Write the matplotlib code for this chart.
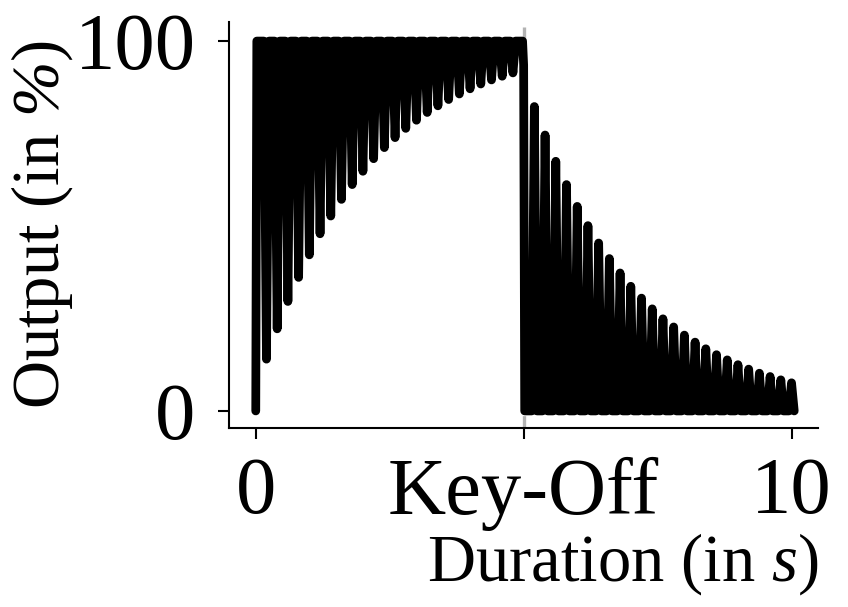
import matplotlib
matplotlib.use("Agg")
import matplotlib.pyplot as plt

plt.rcParams['font.family'] = ['Liberation Serif', 'DejaVu Serif']
plt.rcParams['mathtext.fontset'] = 'custom'
plt.rcParams['mathtext.rm'] = 'Liberation Serif:italic'
plt.rcParams['mathtext.it'] = 'Liberation Serif:italic'

# ---- data ----
key_off = 5.0
attack_times = [0.2, 0.4, 0.6, 0.8, 1.0, 1.2, 1.4, 1.6, 1.8, 2.0, 2.2, 2.4,
                2.6, 2.8, 3.0, 3.2, 3.4, 3.6, 3.8, 4.0, 4.2, 4.4, 4.6, 4.8]
attack_dips = [14.0, 22.2, 29.6, 36.1, 42.2, 47.9, 52.7, 57.2, 61.2, 64.8, 68.2, 71.2,
               73.9, 76.4, 78.6, 80.7, 82.5, 84.2, 85.7, 87.1, 88.4, 89.5, 90.5, 91.4]
keyoff_level = 93.5
release_times = [5.2, 5.4, 5.6, 5.8, 6.0, 6.2, 6.4, 6.6, 6.8, 7.0, 7.2, 7.4, 7.6,
                 7.8, 8.0, 8.2, 8.4, 8.6, 8.8, 9.0, 9.2, 9.4, 9.6, 9.8, 10.0]
release_peaks = [82.3, 74.6, 67.5, 61.2, 55.3, 50.1, 45.4, 41.2, 37.3, 33.7, 30.5, 27.6, 24.9,
                 22.7, 20.5, 18.6, 16.8, 15.2, 13.8, 12.5, 11.3, 10.2, 9.3, 8.4, 7.6]
x_ticks = [0, 5, 10]
x_tick_labels = ['0', 'Key-Off', '10']
y_ticks = [0, 100]
y_tick_labels = ['0', '100']

# ---- build the pulsed line from the read values ----
d = 0.05
xs, ys = [0.0, 0.02], [0.0, 100.0]
for t, v in zip(attack_times, attack_dips):
    xs += [t - d, t, t + d]
    ys += [100.0, v, 100.0]
xs += [key_off - 0.02, key_off, key_off + 0.02]
ys += [100.0, keyoff_level, 0.0]
for t, v in zip(release_times, release_peaks):
    xs += [t - d, t, t + d]
    ys += [0.0, v, 0.0]

fig = plt.figure(figsize=(8.48, 6.07), dpi=100)
ax = fig.add_axes([0.270, 0.295, 0.695, 0.669])

ax.axvline(key_off, color='#b3b3b3', lw=2.4, ls='--', zorder=1)
ax.plot(xs, ys, color='black', lw=6.3, solid_joinstyle='round',
        solid_capstyle='round', zorder=2)

ax.set_xlim(-0.5, 10.5)
ax.set_ylim(-4.6, 105.2)
ax.set_xticks(x_ticks)
ax.set_xticklabels(x_tick_labels)
ax.set_yticks(y_ticks)
ax.set_yticklabels(y_tick_labels)
ax.tick_params(axis='both', labelsize=58, length=8, width=1.5)
ax.tick_params(axis='x', pad=13)
ax.tick_params(axis='y', pad=16)
for s in ['top', 'right']:
    ax.spines[s].set_visible(False)
for s in ['left', 'bottom']:
    ax.spines[s].set_linewidth(1.5)

ax.set_xlabel(r'Duration (in $s$)', fontsize=48, loc='right', labelpad=0)
ax.set_ylabel(r'Output (in $\%$)', fontsize=48, labelpad=0)

fig.savefig('out.png', dpi=100)
